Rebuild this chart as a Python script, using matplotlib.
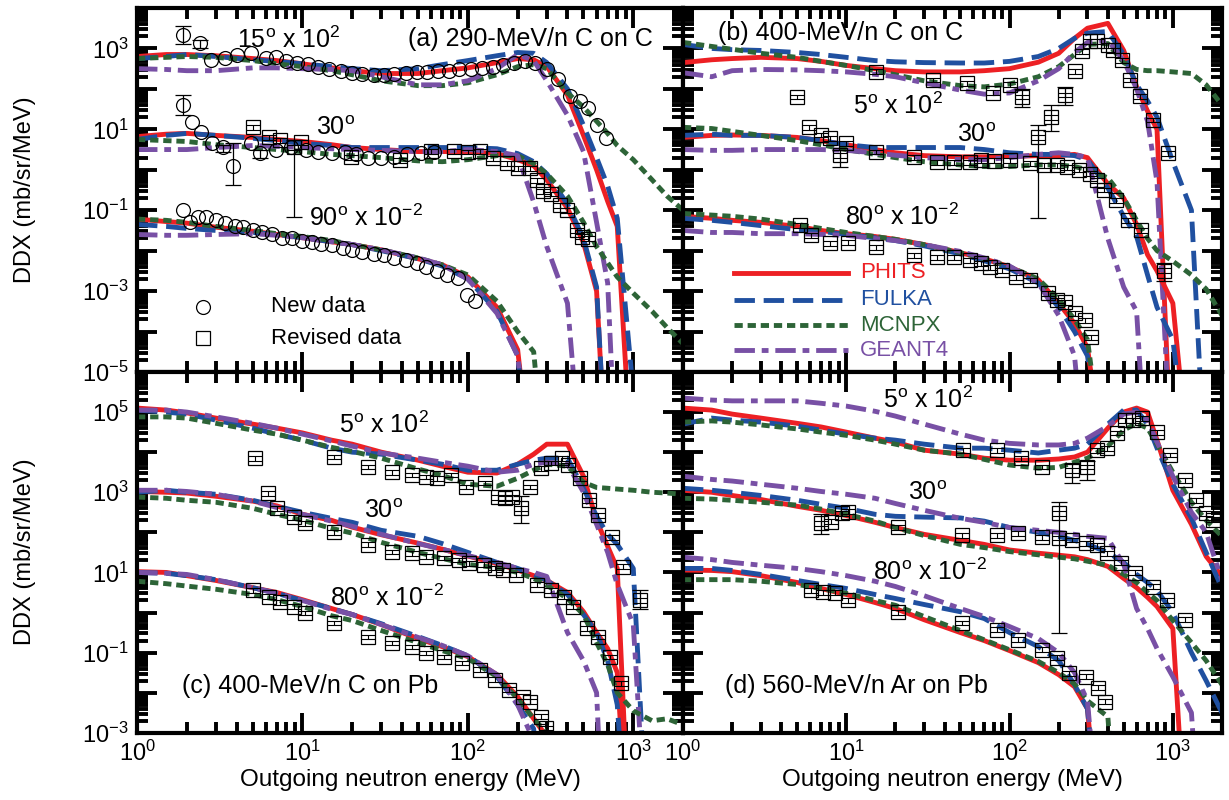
import numpy as np
import matplotlib
matplotlib.use("Agg")
import matplotlib.pyplot as plt
from matplotlib.ticker import FixedLocator, LogLocator, FuncFormatter, NullFormatter

plt.rcParams['font.family'] = ['Liberation Sans', 'DejaVu Sans']
plt.rcParams['mathtext.default'] = 'regular'

energy = [1, 1.5, 2, 3, 5, 7, 10, 15, 20, 30, 50, 70, 100, 150, 200, 250, 300,
          400, 500, 600, 700, 800, 1000, 1300, 1600, 2000]

# calculated DDX as log10 of the plotted value (panel factors already applied)
# -8 = curve has dropped out below the panel
# (a) 290-MeV/n C on C
a15_phits = [2.8, 2.85, 2.85, 2.82, 2.75, 2.7, 2.62, 2.52, 2.45, 2.38, 2.38, 2.45, 2.52, 2.65, 2.75, 2.72, 2.55, 1.85, 0.85, 0.0, -0.78, -1.4, -8, -8, -8, -8]
a15_fulka = [2.75, 2.8, 2.85, 2.8, 2.72, 2.68, 2.62, 2.55, 2.5, 2.45, 2.5, 2.6, 2.7, 2.82, 2.9, 2.88, 2.65, 2.0, 1.1, 0.3, -0.4, -1.2, -5.5, -8, -8, -8]
a15_mcnpx = [2.75, 2.78, 2.8, 2.78, 2.7, 2.62, 2.55, 2.45, 2.35, 2.2, 2.08, 2.08, 2.15, 2.35, 2.55, 2.6, 2.5, 1.9, 1.55, 1.2, 0.9, 0.6, 0.25, -0.25, -0.65, -1.0]
a15_geant4 = [2.5, 2.48, 2.45, 2.45, 2.52, 2.52, 2.5, 2.48, 2.45, 2.3, 2.1, 2.1, 2.2, 2.5, 2.85, 2.7, 2.2, 1.35, 0.45, -1.3, -2.8, -8, -8, -8, -8, -8]
a30_phits = [0.82, 0.88, 0.9, 0.85, 0.8, 0.75, 0.7, 0.62, 0.55, 0.5, 0.45, 0.45, 0.45, 0.4, 0.25, 0.1, -0.25, -0.95, -1.8, -3.0, -8, -8, -8, -8, -8, -8]
a30_fulka = [0.75, 0.85, 0.9, 0.85, 0.78, 0.72, 0.65, 0.6, 0.55, 0.55, 0.55, 0.55, 0.55, 0.52, 0.4, 0.2, -0.1, -0.85, -1.7, -2.9, -8, -8, -8, -8, -8, -8]
a30_mcnpx = [0.75, 0.72, 0.7, 0.62, 0.55, 0.5, 0.45, 0.38, 0.35, 0.3, 0.22, 0.2, 0.25, 0.35, 0.35, 0.15, -0.1, -0.65, -1.3, -1.9, -2.3, -2.65, -3.05, -3.5, -3.9, -4.3]
a30_geant4 = [0.5, 0.5, 0.5, 0.55, 0.6, 0.58, 0.55, 0.52, 0.5, 0.48, 0.45, 0.45, 0.5, 0.45, 0.35, -0.8, -1.9, -3.3, -8, -8, -8, -8, -8, -8, -8, -8]
a90_phits = [-1.22, -1.28, -1.32, -1.42, -1.52, -1.6, -1.68, -1.78, -1.85, -1.98, -2.2, -2.35, -2.65, -3.4, -4.45, -8, -8, -8, -8, -8, -8, -8, -8, -8, -8, -8]
a90_fulka = [-1.35, -1.4, -1.45, -1.5, -1.55, -1.6, -1.68, -1.78, -1.85, -2.0, -2.2, -2.38, -2.7, -3.5, -4.6, -8, -8, -8, -8, -8, -8, -8, -8, -8, -8, -8]
a90_mcnpx = [-1.22, -1.25, -1.3, -1.4, -1.5, -1.58, -1.65, -1.75, -1.85, -1.98, -2.18, -2.35, -2.6, -3.25, -4.0, -4.5, -8, -8, -8, -8, -8, -8, -8, -8, -8, -8]
a90_geant4 = [-1.6, -1.62, -1.62, -1.6, -1.58, -1.62, -1.68, -1.78, -1.85, -1.98, -2.18, -2.35, -2.7, -3.55, -4.6, -8, -8, -8, -8, -8, -8, -8, -8, -8, -8, -8]

# (b) 400-MeV/n C on C
b5_phits = [2.65, 2.72, 2.75, 2.78, 2.75, 2.68, 2.58, 2.5, 2.45, 2.42, 2.42, 2.45, 2.5, 2.66, 2.88, 3.25, 3.5, 3.62, 2.95, 2.05, 1.45, 1.0, -8, -8, -8, -8]
b5_fulka = [3.1, 3.0, 2.97, 2.95, 2.9, 2.85, 2.78, 2.7, 2.67, 2.65, 2.64, 2.64, 2.68, 2.8, 3.0, 3.25, 3.38, 3.42, 2.85, 2.1, 1.7, 1.3, 0.2, -1.0, -8, -8]
b5_mcnpx = [3.15, 3.05, 2.98, 2.88, 2.78, 2.68, 2.58, 2.45, 2.35, 2.2, 2.08, 2.05, 2.12, 2.3, 2.55, 2.85, 3.1, 3.12, 2.65, 2.48, 2.45, 2.45, 2.42, 2.38, 2.1, 1.6]
b5_geant4 = [2.4, 2.3, 2.45, 2.48, 2.47, 2.45, 2.42, 2.36, 2.3, 2.15, 1.97, 1.87, 1.9, 2.2, 2.5, 2.9, 3.15, 3.2, 2.7, 2.0, 1.2, -0.3, -8, -8, -8, -8]
b30_phits = [0.8, 0.85, 0.86, 0.85, 0.8, 0.72, 0.62, 0.5, 0.42, 0.35, 0.32, 0.32, 0.33, 0.35, 0.35, 0.38, 0.3, -0.35, -0.7, -1.35, -2.1, -2.5, -3.3, -8, -8, -8]
b30_fulka = [0.85, 0.88, 0.85, 0.85, 0.8, 0.72, 0.62, 0.55, 0.55, 0.55, 0.55, 0.5, 0.42, 0.38, 0.38, 0.35, 0.25, -0.45, -1.15, -1.65, -2.6, -3.4, -4.2, -8, -8, -8]
b30_mcnpx = [1.05, 1.02, 0.95, 0.85, 0.72, 0.62, 0.5, 0.38, 0.3, 0.2, 0.12, 0.08, 0.08, 0.12, 0.12, 0.08, 0.0, -0.2, -0.7, -1.25, -1.7, -2.0, -2.26, -2.6, -2.95, -3.6]
b30_geant4 = [0.5, 0.48, 0.48, 0.5, 0.5, 0.5, 0.48, 0.42, 0.36, 0.3, 0.25, 0.25, 0.3, 0.38, 0.42, 0.38, 0.3, -1.7, -2.9, -3.5, -8, -8, -8, -8, -8, -8]
b80_phits = [-1.15, -1.2, -1.25, -1.3, -1.4, -1.5, -1.58, -1.65, -1.72, -1.85, -2.05, -2.2, -2.4, -2.72, -3.3, -3.8, -4.4, -8, -8, -8, -8, -8, -8, -8, -8, -8]
b80_fulka = [-1.2, -1.25, -1.3, -1.38, -1.48, -1.52, -1.6, -1.68, -1.75, -1.88, -2.08, -2.25, -2.45, -2.8, -3.4, -4.0, -4.6, -8, -8, -8, -8, -8, -8, -8, -8, -8]
b80_mcnpx = [-1.08, -1.12, -1.15, -1.22, -1.35, -1.45, -1.55, -1.65, -1.72, -1.85, -2.05, -2.2, -2.4, -2.7, -3.2, -3.7, -4.2, -8, -8, -8, -8, -8, -8, -8, -8, -8]
b80_geant4 = [-1.5, -1.55, -1.55, -1.58, -1.58, -1.6, -1.62, -1.7, -1.75, -1.85, -2.02, -2.18, -2.38, -2.8, -3.6, -4.6, -8, -8, -8, -8, -8, -8, -8, -8, -8, -8]

# (c) 400-MeV/n C on Pb
c5_phits = [5.1, 5.05, 4.98, 4.85, 4.7, 4.6, 4.48, 4.3, 4.2, 4.0, 3.8, 3.65, 3.5, 3.48, 3.7, 3.95, 4.2, 4.2, 3.4, 2.3, 1.65, 1.1, -8, -8, -8, -8]
c5_fulka = [5.05, 5.0, 4.95, 4.8, 4.6, 4.45, 4.3, 4.1, 4.0, 3.95, 3.8, 3.7, 3.55, 3.55, 3.7, 3.8, 3.85, 3.85, 3.1, 2.4, 1.95, 1.7, 1.1, -8, -8, -8]
c5_mcnpx = [4.88, 4.88, 4.85, 4.72, 4.55, 4.45, 4.3, 4.12, 4.02, 3.85, 3.58, 3.42, 3.2, 3.15, 3.35, 3.55, 3.7, 3.65, 3.25, 3.12, 3.1, 3.08, 3.05, 3.0, 2.98, 2.95]
c5_geant4 = [5.05, 5.05, 5.0, 4.88, 4.72, 4.6, 4.45, 4.28, 4.15, 3.98, 3.85, 3.75, 3.65, 3.5, 3.55, 3.7, 3.75, 3.7, 3.0, 2.2, 1.5, 0.7, -0.3, -8, -8, -8]
c30_phits = [3.02, 3.0, 2.98, 2.9, 2.78, 2.66, 2.45, 2.3, 2.13, 1.94, 1.73, 1.58, 1.41, 1.22, 1.06, 0.92, 0.8, 0.5, 0.02, -0.5, -0.9, -1.5, -8, -8, -8, -8]
c30_fulka = [3.0, 3.05, 3.0, 2.95, 2.8, 2.65, 2.5, 2.35, 2.25, 2.05, 1.9, 1.72, 1.5, 1.25, 1.1, 0.95, 0.8, 0.45, -0.05, -0.5, -1.2, -2.3, -8, -8, -8, -8]
c30_mcnpx = [2.88, 2.85, 2.8, 2.75, 2.6, 2.45, 2.3, 2.1, 1.98, 1.75, 1.5, 1.35, 1.2, 1.12, 1.0, 0.85, 0.68, 0.35, -0.05, -0.75, -1.3, -2.0, -2.45, -2.7, -2.65, -2.8]
c30_geant4 = [3.05, 3.05, 3.02, 2.95, 2.78, 2.62, 2.45, 2.28, 2.15, 1.95, 1.72, 1.58, 1.42, 1.25, 1.1, 1.0, 0.9, -0.5, -1.2, -2.0, -8, -8, -8, -8, -8, -8]
c80_phits = [1.02, 1.0, 0.92, 0.8, 0.62, 0.5, 0.32, 0.1, -0.05, -0.3, -0.65, -0.85, -1.1, -1.55, -2.1, -2.65, -3.1, -8, -8, -8, -8, -8, -8, -8, -8, -8]
c80_fulka = [1.0, 0.98, 0.92, 0.82, 0.62, 0.48, 0.3, 0.1, -0.05, -0.28, -0.6, -0.82, -1.08, -1.6, -2.3, -2.9, -8, -8, -8, -8, -8, -8, -8, -8, -8, -8]
c80_mcnpx = [0.78, 0.72, 0.66, 0.58, 0.45, 0.32, 0.15, -0.08, -0.2, -0.45, -0.75, -0.95, -1.15, -1.6, -2.15, -2.65, -3.0, -8, -8, -8, -8, -8, -8, -8, -8, -8]
c80_geant4 = [1.0, 0.98, 0.95, 0.82, 0.62, 0.48, 0.3, 0.08, -0.05, -0.3, -0.62, -0.82, -1.08, -1.55, -2.3, -3.2, -8, -8, -8, -8, -8, -8, -8, -8, -8, -8]

# (d) 560-MeV/n Ar on Pb
d5_phits = [5.1, 5.05, 4.95, 4.85, 4.72, 4.63, 4.5, 4.35, 4.25, 4.05, 3.95, 3.85, 3.8, 3.8, 3.83, 3.88, 4.0, 4.6, 5.0, 5.1, 5.0, 4.3, 3.05, 2.2, 1.4, 0.9]
d5_fulka = [4.7, 4.85, 4.8, 4.75, 4.65, 4.55, 4.45, 4.35, 4.3, 4.2, 4.1, 4.1, 4.05, 3.98, 4.05, 4.1, 4.2, 4.7, 5.05, 5.05, 4.7, 4.1, 3.2, 2.35, 1.5, 0.6]
d5_mcnpx = [4.75, 4.78, 4.75, 4.68, 4.58, 4.5, 4.42, 4.3, 4.2, 4.05, 3.95, 3.82, 3.68, 3.6, 3.62, 3.75, 3.85, 4.15, 4.55, 4.72, 4.6, 4.2, 3.5, 2.75, 2.3, 1.9]
d5_geant4 = [5.35, 5.3, 5.28, 5.28, 5.28, 5.22, 5.15, 5.02, 4.9, 4.7, 4.45, 4.3, 4.22, 4.18, 4.18, 4.22, 4.35, 4.65, 4.95, 5.0, 4.8, 4.25, 3.4, 2.5, 2.0, 0.8]
d30_phits = [3.05, 3.0, 2.92, 2.82, 2.65, 2.55, 2.42, 2.25, 2.12, 1.95, 1.8, 1.7, 1.56, 1.48, 1.43, 1.39, 1.32, 1.15, 0.85, 0.62, 0.38, 0.15, -0.4, -8, -8, -8]
d30_fulka = [3.1, 3.05, 3.0, 2.92, 2.8, 2.7, 2.6, 2.45, 2.4, 2.38, 2.36, 2.28, 2.12, 2.0, 1.9, 1.8, 1.7, 1.5, 1.25, 0.95, 0.75, 0.55, 0.0, -1.0, -1.7, -2.5]
d30_mcnpx = [2.85, 2.83, 2.8, 2.75, 2.68, 2.58, 2.45, 2.28, 2.12, 1.92, 1.7, 1.62, 1.52, 1.44, 1.38, 1.34, 1.28, 1.18, 0.95, 0.75, 0.5, 0.3, -0.2, -0.75, -1.2, -1.8]
d30_geant4 = [3.4, 3.32, 3.28, 3.2, 3.1, 3.02, 2.95, 2.85, 2.72, 2.55, 2.35, 2.25, 2.12, 2.05, 2.0, 1.95, 1.9, 1.85, 1.2, 0.1, -0.4, -0.9, -1.6, -2.5, -8, -8]
d80_phits = [1.06, 1.05, 1.02, 0.92, 0.75, 0.6, 0.45, 0.25, 0.1, -0.18, -0.5, -0.7, -0.95, -1.25, -1.55, -1.85, -2.4, -8, -8, -8, -8, -8, -8, -8, -8, -8]
d80_fulka = [1.1, 1.1, 1.05, 0.95, 0.8, 0.7, 0.6, 0.45, 0.35, 0.2, 0.02, -0.15, -0.5, -0.85, -1.2, -1.8, -2.4, -8, -8, -8, -8, -8, -8, -8, -8, -8]
d80_mcnpx = [0.82, 0.82, 0.82, 0.78, 0.7, 0.6, 0.48, 0.3, 0.18, -0.1, -0.45, -0.68, -0.93, -1.22, -1.5, -1.78, -2.2, -2.6, -8, -8, -8, -8, -8, -8, -8, -8]
d80_geant4 = [1.38, 1.32, 1.25, 1.18, 1.1, 1.02, 0.92, 0.78, 0.65, 0.42, 0.1, -0.1, -0.35, -0.65, -1.0, -1.5, -2.2, -8, -8, -8, -8, -8, -8, -8, -8, -8]

# measured points: energy (MeV) and log10 of plotted value
a15_new_e = [1.9, 2.4, 2.8, 3.4, 4.0, 4.9, 6.0, 6.9, 8.0, 9.3, 10.8, 12.5, 14.5, 17, 20, 23, 27, 31, 36, 42, 49, 57, 66, 77, 89, 104, 121, 141, 164, 190, 220, 256, 300, 350, 415, 475, 534, 600, 680]
a15_new_v = [3.33, 3.13, 2.71, 2.76, 2.84, 2.89, 2.76, 2.79, 2.7, 2.65, 2.62, 2.55, 2.5, 2.45, 2.4, 2.38, 2.35, 2.35, 2.38, 2.4, 2.42, 2.42, 2.45, 2.45, 2.48, 2.5, 2.52, 2.55, 2.6, 2.65, 2.7, 2.65, 2.5, 2.25, 1.82, 1.7, 1.52, 1.1, 0.78]
a30_new_e = [1.9, 2.15, 2.44, 2.84, 3.3, 3.8, 4.9, 5.5, 6.9, 8.5, 10.5, 12.5, 15, 18, 21, 25, 30, 36, 43, 52, 62]
a30_new_v = [1.6, 1.18, 0.93, 0.66, 0.56, 0.1, 0.66, 0.41, 0.49, 0.56, 0.5, 0.45, 0.42, 0.45, 0.38, 0.3, 0.3, 0.32, 0.38, 0.42, 0.44]
a30_rev_e = [5.0, 6.3, 7.3, 8.9, 9.8, 19.6, 39, 60, 82, 100, 118, 142, 172, 200, 238, 262, 285, 320, 360, 400, 455, 490, 530]
a30_rev_v = [1.05, 0.8, 0.73, 0.56, 0.68, 0.31, 0.24, 0.46, 0.46, 0.44, 0.46, 0.29, 0.16, 0.04, 0.04, -0.26, -0.53, -0.6, -0.88, -1.0, -1.5, -1.65, -1.7]
a90_new_e = [1.9, 2.1, 2.35, 2.6, 3.0, 3.4, 3.9, 4.4, 5.0, 5.7, 6.5, 7.5, 8.6, 10, 11.5, 13, 15, 17.5, 20, 23, 27, 31, 36, 42, 49, 56, 65, 75, 87, 99, 110]
a90_new_v = [-1.0, -1.3, -1.17, -1.17, -1.25, -1.32, -1.38, -1.42, -1.5, -1.55, -1.6, -1.69, -1.69, -1.75, -1.79, -1.84, -1.87, -1.94, -1.98, -2.04, -2.08, -2.11, -2.19, -2.24, -2.31, -2.4, -2.5, -2.6, -2.68, -3.1, -3.25]

b5_e = [5.0, 15.3, 34, 55, 79, 100, 120, 150, 180, 220, 250, 276, 310, 345, 400, 430, 490, 550, 630, 760, 930]
b5_v = [1.8, 2.42, 2.22, 2.14, 1.9, 2.1, 1.8, 0.8, 1.3, 1.85, 2.44, 2.93, 3.18, 3.18, 3.08, 2.96, 2.71, 2.22, 1.82, 1.23, 0.41]
b30_e = [5.9, 7.0, 8.0, 9.1, 10, 15.3, 26, 36, 46, 57, 67, 80, 100, 134, 163, 194, 225, 265, 310, 345, 380, 450, 530, 640, 880]
b30_v = [1.05, 0.86, 0.78, 0.36, 0.66, 0.44, 0.31, 0.19, 0.19, 0.19, 0.24, 0.22, 0.24, 0.16, 0.11, 0.11, 0.06, 0.0, -0.1, -0.26, -0.5, -0.75, -1.25, -1.5, -2.5]
b80_e = [5.2, 6.1, 8.0, 10.3, 15.3, 26, 36, 46, 57, 67, 76, 90, 110, 134, 172, 194, 220, 250, 290, 315]
b80_v = [-1.37, -1.62, -1.82, -1.8, -1.92, -2.11, -2.16, -2.16, -2.24, -2.31, -2.41, -2.48, -2.66, -2.73, -3.05, -3.23, -3.28, -3.55, -3.72, -4.14]

c5_e = [5.2, 15.5, 25, 35, 46, 56, 65, 79, 98, 127, 152, 168, 185, 210, 238, 276, 317, 370, 405, 475, 540, 610, 745, 870, 1100]
c5_v = [3.85, 3.88, 3.63, 3.5, 3.43, 3.38, 3.35, 3.43, 3.13, 3.23, 2.88, 2.85, 2.88, 2.6, 3.13, 3.6, 3.73, 3.85, 3.68, 3.35, 2.8, 2.43, 1.88, 1.14, 0.31]
c30_e = [6.2, 7.0, 8.9, 10.3, 15.5, 25, 35, 46, 56, 72, 88, 102, 125, 145, 164, 195, 260, 318, 380, 430, 525, 610, 725, 845]
c30_v = [2.98, 2.6, 2.38, 2.23, 2.0, 1.69, 1.51, 1.48, 1.39, 1.36, 1.31, 1.23, 1.19, 1.11, 1.06, 0.94, 0.69, 0.56, 0.39, 0.14, -0.39, -0.61, -1.11, -1.76]
c80_e = [5.0, 6.3, 7.3, 8.9, 10.3, 15.5, 25, 35, 46, 56, 72, 92, 118, 145, 178, 216, 238, 276, 297]
c80_v = [0.56, 0.39, 0.26, 0.14, -0.01, -0.26, -0.61, -0.76, -0.86, -1.01, -1.11, -1.26, -1.43, -1.68, -1.93, -2.1, -2.23, -2.6, -2.88]

d5_e = [52, 84, 117, 158, 240, 300, 345, 395, 455, 510, 570, 650, 800, 960, 1190, 1390, 1600, 1760]
d5_v = [4.05, 4.05, 3.85, 3.63, 3.55, 3.63, 4.05, 4.1, 4.48, 4.8, 4.8, 4.85, 4.5, 3.93, 3.3, 2.8, 2.48, 2.31]
d30_e = [7.0, 8.1, 9.4, 10.3, 20.6, 51, 84, 113, 157, 200, 200, 242, 295, 345, 395, 480, 590, 760, 920, 1180]
d30_v = [2.23, 2.26, 2.48, 2.51, 2.13, 1.93, 1.93, 1.98, 1.88, 2.48, 1.86, 1.81, 1.73, 1.68, 1.48, 1.24, 0.99, 0.64, 0.31, -0.18]
d80_e = [6.1, 7.2, 8.5, 10.3, 20.6, 51, 84, 113, 157, 194, 230, 295, 350, 385]
d80_v = [0.56, 0.51, 0.49, 0.31, 0.01, -0.26, -0.43, -0.68, -0.93, -1.13, -1.51, -1.6, -1.88, -2.23]

# large error bars: energy, log10 low, log10 high
bars_a_e = [1.9, 2.4, 1.9, 3.3, 3.8, 5.5, 8.9]
bars_a_lo = [3.12, 3.02, 1.35, 0.45, -0.38, 0.3, -1.17]
bars_a_hi = [3.55, 3.22, 1.85, 0.62, 0.66, 0.5, 0.73]
bars_b_e = [9.1, 120, 150, 180, 220, 880]
bars_b_lo = [0.06, 1.55, -1.2, 0.95, 1.6, -2.75]
bars_b_hi = [0.5, 2.0, 1.1, 1.6, 2.05, -2.3]
bars_c_e = [210, 1100]
bars_c_lo = [2.23, 0.1]
bars_c_hi = [2.9, 0.55]
bars_d_e = [7.0, 200, 240, 300]
bars_d_lo = [1.95, -0.51, 3.22, 3.3]
bars_d_hi = [2.45, 2.76, 3.7, 3.78]

codes = ['PHITS', 'FULKA', 'MCNPX', 'GEANT4']
colors = ['#ED2024', '#2050A0', '#2D6437', '#7850A5']
styles = ['-', (0, (4.2, 1.8)), (0, (1.7, 1.0)), (0, (4.2, 1.4, 1.4, 1.4))]
LW = 3.5


def draw_models(ax, curves):
    for lg, c, ls in zip(curves, colors, styles):
        ax.plot(energy, 10.0 ** np.array(lg), color=c, ls=ls, lw=LW, zorder=2)


def draw_points(ax, e, lg, marker, caps=True):
    v = 10.0 ** np.array(lg)
    if caps:
        ax.errorbar(e, v, yerr=[v - v / 1.15, v * 0.15], fmt='none', ecolor='k',
                    elinewidth=0.8, capsize=5, capthick=0.8, zorder=5)
    ax.plot(e, v, ls='none', marker=marker, ms=10, mfc='none', mec='k', mew=0.9, zorder=6)


def draw_bars(ax, e, lo, hi):
    lo = 10.0 ** np.array(lo)
    hi = 10.0 ** np.array(hi)
    ax.errorbar(e, hi, yerr=[hi - lo, np.zeros(len(e))], fmt='none', ecolor='k',
                elinewidth=0.9, capsize=6, capthick=0.9, zorder=5)


def style_axes(ax, ylo, yhi, xlabels, ylabels):
    ax.set_xscale('log')
    ax.set_yscale('log')
    ax.set_xlim(1, 2000)
    ax.set_ylim(10.0 ** ylo, 10.0 ** yhi)
    ax.yaxis.set_major_locator(FixedLocator([10.0 ** k for k in range(ylo, yhi + 1)]))
    ax.yaxis.set_minor_locator(LogLocator(base=10, subs=np.arange(2, 10), numticks=30))
    ax.xaxis.set_major_locator(FixedLocator([1, 10, 100, 1000]))
    ax.xaxis.set_minor_locator(LogLocator(base=10, subs=np.arange(2, 10), numticks=30))
    ax.yaxis.set_minor_formatter(NullFormatter())
    ax.xaxis.set_minor_formatter(NullFormatter())
    if ylabels:
        ax.yaxis.set_major_formatter(FuncFormatter(
            lambda v, p: r'$10^{%d}$' % round(np.log10(v)) if round(np.log10(v)) % 2 else ''))
    else:
        ax.yaxis.set_major_formatter(NullFormatter())
    if xlabels:
        ax.xaxis.set_major_formatter(FuncFormatter(lambda v, p: r'$10^{%d}$' % round(np.log10(v))))
    else:
        ax.xaxis.set_major_formatter(NullFormatter())
    ax.tick_params(which='both', direction='in', top=True, right=True, width=2.8, labelsize=17)
    ax.tick_params(which='major', length=14.5)
    ax.tick_params(which='minor', length=7.8)
    ax.tick_params(axis='y', pad=6)
    ax.tick_params(axis='x', pad=6)
    for s in ax.spines.values():
        s.set_linewidth(3.0)


def note(ax, x, y, s, size=18, color='k'):
    ax.text(x, y, s, transform=ax.transAxes, fontsize=size, color=color,
            ha='left', va='center', zorder=8)


fig = plt.figure(figsize=(12.29, 8), dpi=100)
ax_a = fig.add_axes([0.1115, 0.535, 0.4443, 0.455])
ax_b = fig.add_axes([0.5557, 0.535, 0.4386, 0.455])
ax_c = fig.add_axes([0.1115, 0.084, 0.4443, 0.451])
ax_d = fig.add_axes([0.5557, 0.084, 0.4386, 0.451])

# (a)
draw_models(ax_a, [a15_phits, a15_fulka, a15_mcnpx, a15_geant4])
draw_models(ax_a, [a30_phits, a30_fulka, a30_mcnpx, a30_geant4])
draw_models(ax_a, [a90_phits, a90_fulka, a90_mcnpx, a90_geant4])
draw_points(ax_a, a15_new_e, a15_new_v, 'o', caps=False)
draw_points(ax_a, a30_new_e, a30_new_v, 'o', caps=False)
draw_points(ax_a, a30_rev_e, a30_rev_v, 's')
draw_points(ax_a, a90_new_e, a90_new_v, 'o', caps=False)
draw_bars(ax_a, bars_a_e, bars_a_lo, bars_a_hi)
style_axes(ax_a, -5, 4, False, True)
note(ax_a, 0.183, 0.912, r'15$^{o}$ x 10$^{2}$')
note(ax_a, 0.328, 0.670, r'30$^{o}$')
note(ax_a, 0.315, 0.423, r'90$^{o}$ x 10$^{-2}$')
note(ax_a, 0.496, 0.915, '(a) 290-MeV/n C on C')
ax_a.plot([0.121], [0.179], transform=ax_a.transAxes, marker='o', ms=10, mfc='none', mec='k', mew=0.9)
ax_a.plot([0.121], [0.093], transform=ax_a.transAxes, marker='s', ms=10, mfc='none', mec='k', mew=0.9)
note(ax_a, 0.245, 0.179, 'New data', size=16)
note(ax_a, 0.245, 0.093, 'Revised data', size=16)

# (b)
draw_models(ax_b, [b5_phits, b5_fulka, b5_mcnpx, b5_geant4])
draw_models(ax_b, [b30_phits, b30_fulka, b30_mcnpx, b30_geant4])
draw_models(ax_b, [b80_phits, b80_fulka, b80_mcnpx, b80_geant4])
draw_points(ax_b, b5_e, b5_v, 's')
draw_points(ax_b, b30_e, b30_v, 's')
draw_points(ax_b, b80_e, b80_v, 's')
draw_bars(ax_b, bars_b_e, bars_b_lo, bars_b_hi)
style_axes(ax_b, -5, 4, False, False)
note(ax_b, 0.065, 0.931, '(b) 400-MeV/n C on C')
note(ax_b, 0.315, 0.731, r'5$^{o}$ x 10$^{2}$')
note(ax_b, 0.508, 0.651, r'30$^{o}$')
note(ax_b, 0.300, 0.426, r'80$^{o}$ x 10$^{-2}$')
for k, yy in enumerate([0.272, 0.198, 0.129, 0.060]):
    ax_b.plot([0.095, 0.306], [yy, yy], transform=ax_b.transAxes, color=colors[k],
              ls=styles[k], lw=LW, zorder=8)
    note(ax_b, 0.328, yy, codes[k], size=16, color=colors[k])

# (c)
draw_models(ax_c, [c5_phits, c5_fulka, c5_mcnpx, c5_geant4])
draw_models(ax_c, [c30_phits, c30_fulka, c30_mcnpx, c30_geant4])
draw_models(ax_c, [c80_phits, c80_fulka, c80_mcnpx, c80_geant4])
draw_points(ax_c, c5_e, c5_v, 's')
draw_points(ax_c, c30_e, c30_v, 's')
draw_points(ax_c, c80_e, c80_v, 's')
draw_bars(ax_c, bars_c_e, bars_c_lo, bars_c_hi)
style_axes(ax_c, -3, 6, True, True)
note(ax_c, 0.370, 0.853, r'5$^{o}$ x 10$^{2}$')
note(ax_c, 0.416, 0.615, r'30$^{o}$')
note(ax_c, 0.353, 0.374, r'80$^{o}$ x 10$^{-2}$')
note(ax_c, 0.082, 0.130, '(c) 400-MeV/n C on Pb')

# (d)
draw_models(ax_d, [d5_phits, d5_fulka, d5_mcnpx, d5_geant4])
draw_models(ax_d, [d30_phits, d30_fulka, d30_mcnpx, d30_geant4])
draw_models(ax_d, [d80_phits, d80_fulka, d80_mcnpx, d80_geant4])
draw_points(ax_d, d5_e, d5_v, 's')
draw_points(ax_d, d30_e, d30_v, 's')
draw_points(ax_d, d80_e, d80_v, 's')
draw_bars(ax_d, bars_d_e, bars_d_lo, bars_d_hi)
style_axes(ax_d, -3, 6, True, False)
note(ax_d, 0.371, 0.922, r'5$^{o}$ x 10$^{2}$')
note(ax_d, 0.417, 0.665, r'30$^{o}$')
note(ax_d, 0.353, 0.446, r'80$^{o}$ x 10$^{-2}$')
note(ax_d, 0.078, 0.130, '(d) 560-MeV/n Ar on Pb')

# axis titles
narrow = ['Liberation Sans Narrow', 'Liberation Sans']
fig.text(0.0203, 0.7625, 'DDX (mb/sr/MeV)', rotation=90, ha='center', va='center',
         fontsize=17, family=narrow)
fig.text(0.0203, 0.31, 'DDX (mb/sr/MeV)', rotation=90, ha='center', va='center',
         fontsize=17, family=narrow)
fig.text(0.3337, 0.025, 'Outgoing neutron energy (MeV)', ha='center', va='center', fontsize=17.5)
fig.text(0.7750, 0.025, 'Outgoing neutron energy (MeV)', ha='center', va='center', fontsize=17.5)

fig.savefig('out.png', dpi=100)
